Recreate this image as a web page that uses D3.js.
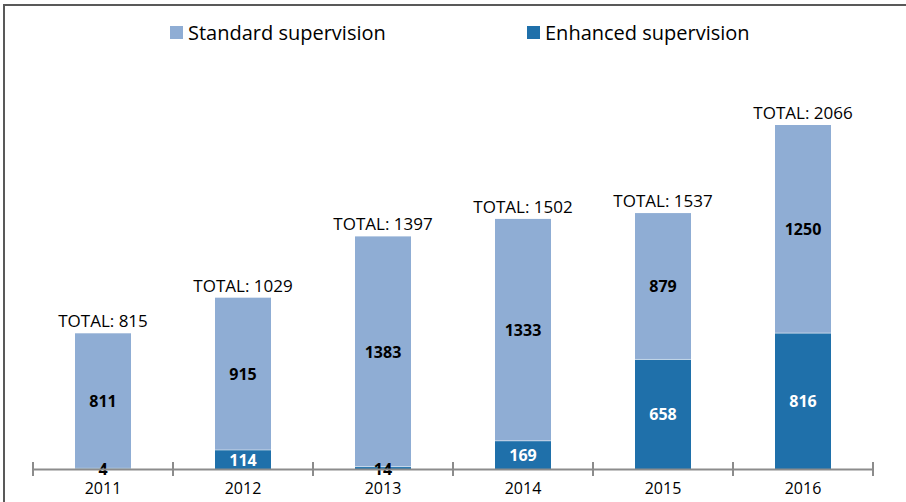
<!DOCTYPE html>
<html><head><meta charset="utf-8">
<script src="https://cdn.jsdelivr.net/npm/d3@7/dist/d3.min.js"></script>
<style>body{margin:0;background:#fff;} svg{display:block;}</style>
</head><body><svg id="c" width="906" height="502"></svg>
<script>
const years = ["2011","2012","2013","2014","2015","2016"];
const enhanced = [4,114,14,169,658,816];
const standard = [811,915,1383,1333,879,1250];
const totals = [815,1029,1397,1502,1537,2066];
const seriesNames = ["Standard supervision","Enhanced supervision"];
const colors = {std:"#8FADD4", enh:"#1F70AA"};

const svg = d3.select("#c");
const font = "'Open Sans', sans-serif";
// frame
svg.append("path").attr("d","M4,502 V5 H906").attr("fill","none").attr("stroke","#595959").attr("stroke-width",2);

const x = d3.scaleBand().domain(years).range([33,873]).paddingInner(0).paddingOuter(0);
const y = d3.scaleLinear().domain([0,2066]).range([469,125]);
const bw = 56;
const cx = d => x(d) + x.bandwidth()/2;

const g = svg.append("g");
g.selectAll("rect.enh").data(years).join("rect").attr("class","enh")
 .attr("x",d=>cx(d)-bw/2).attr("width",bw)
 .attr("y",(d,i)=>y(enhanced[i])).attr("height",(d,i)=>y(0)-y(enhanced[i]))
 .attr("fill",colors.enh);
g.selectAll("rect.std").data(years).join("rect").attr("class","std")
 .attr("x",d=>cx(d)-bw/2).attr("width",bw)
 .attr("y",(d,i)=>y(enhanced[i]+standard[i])).attr("height",(d,i)=>y(enhanced[i])-y(enhanced[i]+standard[i]))
 .attr("fill",colors.std);
g.selectAll("line.sep").data(years).join("line")
 .attr("x1",d=>cx(d)-bw/2).attr("x2",d=>cx(d)+bw/2)
 .attr("y1",(d,i)=>y(enhanced[i])).attr("y2",(d,i)=>y(enhanced[i]))
 .attr("stroke","#fff").attr("stroke-opacity",0.5).attr("stroke-width",1);

// axis
const ax = svg.append("g").attr("transform","translate(0,469)")
 .call(d3.axisBottom(x).tickSize(0).tickPadding(14));
ax.select(".domain").attr("stroke","#8c8c8c").attr("stroke-width",2);
ax.selectAll("text").attr("font-family",font).attr("font-size",16).attr("fill","#000");
const ticks = years.map(d=>x(d)).concat([x(years[years.length-1])+x.bandwidth()]);
svg.selectAll("line.tk").data(ticks).join("line").attr("x1",d=>d).attr("x2",d=>d)
 .attr("y1",462).attr("y2",476).attr("stroke","#8c8c8c").attr("stroke-width",2);

// value labels
g.selectAll("text.sv").data(years).join("text")
 .attr("x",cx).attr("y",(d,i)=>(y(enhanced[i])+y(enhanced[i]+standard[i]))/2+6)
 .attr("text-anchor","middle").attr("font-family",font).attr("font-weight","bold").attr("font-size",16)
 .text((d,i)=>standard[i]);
g.selectAll("text.ev").data(years).join("text")
 .attr("x",cx).attr("y",(d,i)=> enhanced[i]<50 ? 475 : (y(enhanced[i])+y(0))/2+6)
 .attr("text-anchor","middle").attr("font-family",font).attr("font-weight","bold").attr("font-size",16)
 .attr("fill",(d,i)=>enhanced[i]<50?"#000":"#fff")
 .text((d,i)=>enhanced[i]);
g.selectAll("text.tot").data(years).join("text")
 .attr("x",cx).attr("y",(d,i)=>y(totals[i])-6)
 .attr("text-anchor","middle").attr("font-family",font).attr("font-size",17)
 .text((d,i)=>"TOTAL: "+totals[i]);

// legend
const leg = [{n:seriesNames[0],c:colors.std,x:170},{n:seriesNames[1],c:colors.enh,x:527}];
const lg = svg.selectAll("g.leg").data(leg).join("g").attr("transform",d=>`translate(${d.x},26)`);
lg.append("rect").attr("width",13).attr("height",13).attr("fill",d=>d.c);
lg.append("text").attr("x",18).attr("y",13.5).attr("font-family",font).attr("font-size",20).text(d=>d.n);
</script></body></html>
